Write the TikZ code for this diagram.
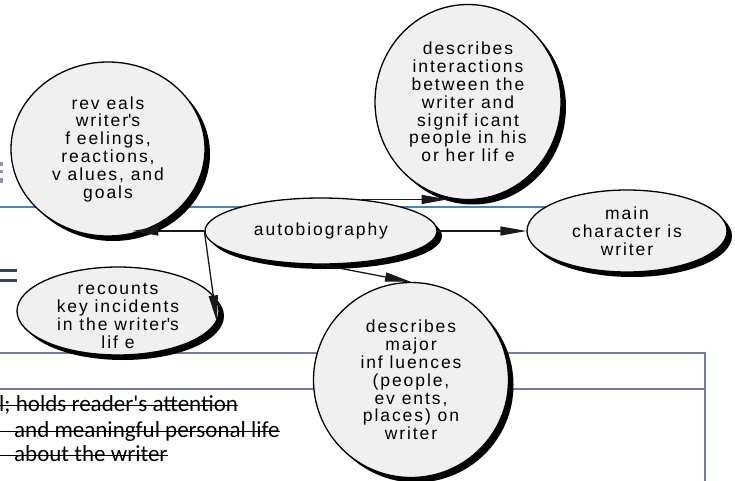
\documentclass[tikz,border=0pt]{standalone}
\usepackage{fontspec}
\setmainfont{Liberation Sans}
\newfontfamily\bubblefont[LetterSpace=11]{Liberation Sans}
\newfontfamily\notefont{Carlito}
\usetikzlibrary{arrows.meta,shapes.geometric,shadows}
\definecolor{bubblegray}{HTML}{F0F0F0}
\definecolor{ruleblue}{HTML}{4F81BD}
\definecolor{boxslate}{HTML}{717BA3}
\definecolor{fragslate}{HTML}{3A4262}
\definecolor{fraglilac}{HTML}{8C92C4}
\tikzset{
  bubbletext/.style={
    align=center,inner sep=0pt,text=black,
    font=\bubblefont\fontsize{17.5pt}{17.8pt}\selectfont
  },
  bubble/.style={
    bubbletext,draw,ellipse,fill=bubblegray,line width=1.3pt,
    drop shadow={shadow xshift=5pt,shadow yshift=-5pt,fill=black,opacity=1}
  },
  link/.style={-{Triangle[length=26pt,width=9pt]},line width=1.3pt,black!90},
  note/.style={anchor=base west,inner sep=0pt,font=\notefont\fontsize{23pt}{26pt}\selectfont},
  strike/.style={line width=1.2pt}
}

\begin{document}
\begin{tikzpicture}[x=1pt,y=-1pt]
\useasboundingbox (0,0) rectangle (735,481);

% what is left of the slide behind the map
\draw[ruleblue,line width=2pt] (0,207) -- (600,207);
\fill[fraglilac] (0,162) rectangle (3,166);
\fill[fraglilac] (0,170) rectangle (3,173);
\fill[fraglilac] (0,178) rectangle (3,183);
\fill[fragslate] (0,269) rectangle (17,271.5);
\fill[fragslate] (0,279) rectangle (17,281.5);
\draw[boxslate,line width=2.5pt] (0,353) -- (705,353) -- (705,481);
\draw[boxslate,line width=2.5pt] (0,389) -- (705,389);

\node[note] (hold) at (-1,411) {l; holds reader\textquotesingle s attention};
\draw[strike] (0,405.5) -- (hold.east |- 0,405.5);
\node[note] (life) at (14,437) {and meaningful personal life};
\draw[strike] (0,431.5) -- (life.east |- 0,431.5);
\node[note] (about) at (14,461) {about the writer};
\draw[strike] (0,455.5) -- (about.east |- 0,455.5);

% the map
\node[bubble,minimum width=194pt,minimum height=174pt] (reveals) at (108,149) {
rev eals\\writer\textquotesingle s\\f eelings,\\reactions,\\v alues, and\\goals
};
\node[bubble,minimum width=186pt,minimum height=195pt] (meets) at (468,102) {
describes\\interactions\\between the\\writer and\\signif icant\\people in his\\or her lif e
};
\node[bubble,minimum width=232pt,minimum height=66pt] (auto) at (321,231) {autobiography};
\node[bubble,minimum width=200pt,minimum height=82pt] (writer) at (627,231) {
main\\character is\\writer
};
\node[bubble,minimum width=202pt,minimum height=88pt] (incidents) at (118,311) {};
\node[bubbletext] (incidents-text) at (118,316) {
recounts\\key incidents\\in the writer\textquotesingle s\\lif e
};
\node[bubble,minimum width=195pt,minimum height=195pt] (influences) at (411,380) {
describes\\major\\inf luences\\(people,\\ev ents,\\places) on\\writer
};

\draw[link] (auto.west) -- (auto.west -| reveals.286);
\draw[link] (auto.38) -- (auto.38 -| meets.258);
\draw[link] (auto.east) -- (writer.west);
\draw[link] (auto.west) -- (incidents.-6);
\draw[link] (auto.south) -- (influences.north);

\end{tikzpicture}
\end{document}
